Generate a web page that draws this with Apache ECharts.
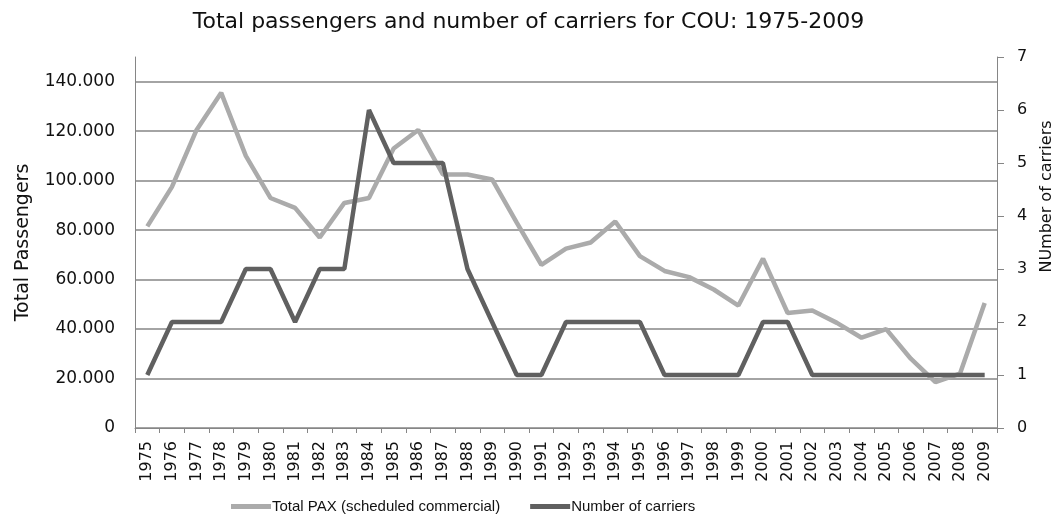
<!DOCTYPE html>
<html>
<head>
<meta charset="utf-8">
<script src="https://cdn.jsdelivr.net/npm/echarts@6/dist/echarts.min.js"></script>
<style>
  html, body { margin: 0; padding: 0; background: #fff; }
  #chart { width: 1057px; height: 525px; }
</style>
</head>
<body>
<div id="chart"></div>
<script>
var years = ['1975','1976','1977','1978','1979','1980','1981','1982','1983','1984',
  '1985','1986','1987','1988','1989','1990','1991','1992','1993','1994',
  '1995','1996','1997','1998','1999','2000','2001','2002','2003','2004',
  '2005','2006','2007','2008','2009'];

// total passengers, scheduled commercial
var paxValues = [81500, 97500, 120500, 135500, 110000, 93000, 89000, 77000, 91000, 93000,
  113000, 120500, 102500, 102500, 100500, 83000, 66000, 72500, 75000, 83500,
  69500, 63500, 61000, 56000, 49500, 68500, 46500, 47500, 42500, 36500,
  40000, 28000, 18500, 22000, 50500];

var carrierValues = [1, 2, 2, 2, 3, 3, 2, 3, 3, 6,
  5, 5, 5, 3, 2, 1, 1, 2, 2, 2,
  2, 1, 1, 1, 1, 2, 2, 1, 1, 1,
  1, 1, 1, 1, 1];

var font = 'DejaVu Sans';
var chart = echarts.init(document.getElementById('chart'));

var option = {
  animation: false,
  title: {
    text: 'Total passengers and number of carriers for COU: 1975-2009',
    left: 'center',
    top: 6,
    textStyle: { fontFamily: font, fontSize: 22, fontWeight: 'normal', color: '#111' }
  },
  legend: {
    bottom: 6,
    left: 226,
    itemWidth: 40,
    itemHeight: 5,
    itemGap: 30,
    icon: 'rect',
    textStyle: { fontFamily: 'Liberation Sans', fontSize: 15, color: '#111', padding: [0, 0, 0, -4] },
    data: ['Total PAX (scheduled commercial)', 'Number of carriers']
  },
  grid: { left: 135, right: 60, top: 57, bottom: 97, containLabel: false, outerBoundsMode: 'none' },
  xAxis: {
    type: 'category',
    data: years,
    boundaryGap: true,
    axisLine: { lineStyle: { color: '#868686', width: 1 } },
    axisTick: { show: true, alignWithLabel: false, length: 5, lineStyle: { color: '#868686' } },
    axisLabel: { rotate: 90, interval: 0, fontFamily: font, fontSize: 16, color: '#111', margin: 13 }
  },
  yAxis: [{
    type: 'value',
    min: 0,
    max: 150000,
    interval: 20000,
    name: 'Total Passengers',
    nameLocation: 'middle',
    nameGap: 102,
    nameTextStyle: { fontFamily: font, fontSize: 19, color: '#111' },
    axisLine: { show: true, lineStyle: { color: '#868686' } },
    axisTick: { show: false },
    axisLabel: {
      fontFamily: font, fontSize: 17, color: '#111', margin: 20, showMaxLabel: false,
      formatter: function (v) { return v === 0 ? '0' : (v / 1000) + '.000'; }
    },
    splitLine: { show: true, showMaxLine: false, lineStyle: { color: '#868686', width: 1.5 } }
  }, {
    type: 'value',
    min: 0,
    max: 7,
    interval: 1,
    name: 'NUmber of carriers',
    nameLocation: 'middle',
    nameGap: 42,
    nameTextStyle: { fontFamily: font, fontSize: 16, color: '#111', padding: [0, 0, 0, 92] },
    axisLine: { show: true, lineStyle: { color: '#868686' } },
    axisTick: { show: true, length: 7, lineStyle: { color: '#868686' } },
    axisLabel: { fontFamily: font, fontSize: 16, color: '#111', margin: 20 },
    splitLine: { show: false }
  }],
  series: [{
    name: 'Total PAX (scheduled commercial)',
    type: 'line',
    yAxisIndex: 0,
    data: paxValues,
    showSymbol: false,
    symbol: 'none',
    color: '#ababab',
    lineStyle: { color: '#ababab', width: 4.5 }
  }, {
    name: 'Number of carriers',
    type: 'line',
    yAxisIndex: 1,
    data: carrierValues,
    showSymbol: false,
    symbol: 'none',
    color: '#606060',
    lineStyle: { color: '#606060', width: 4.5 }
  }]
};

chart.setOption(option);
</script>
</body>
</html>
